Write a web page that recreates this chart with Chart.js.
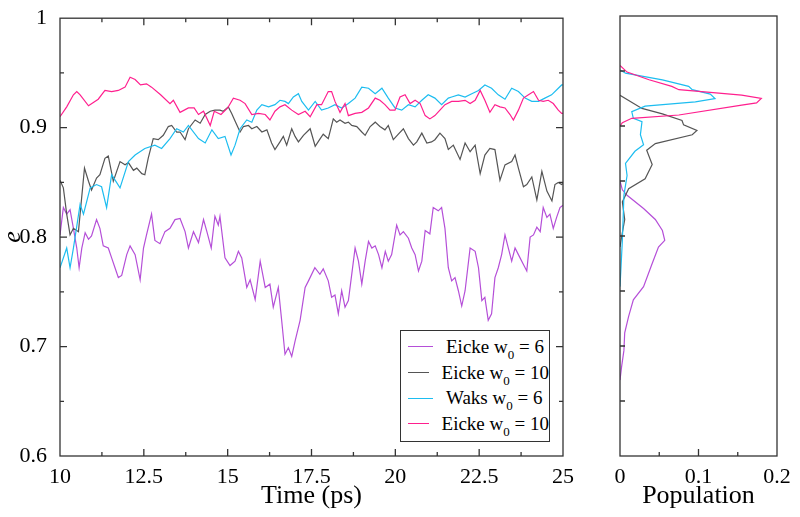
<!DOCTYPE html>
<html>
<head>
<meta charset="utf-8">
<script src="https://cdn.jsdelivr.net/npm/chart.js@4.4.1/dist/chart.umd.min.js"></script>
<style>
  body { margin:0; background:#fff; }
  #wrap { position:relative; width:800px; height:517px; }
  canvas { position:absolute; top:0; }
  #legend {
    position:absolute; left:400px; top:330px; width:148px; height:107px;
    border:1.4px solid #333; background:#fff; padding-top:3px;
    font-family:"Liberation Serif","Times New Roman",serif; font-size:19px; color:#000;
  }
  #legend .row { height:25.7px; display:flex; align-items:center; white-space:pre; }
  #legend .swatch { width:25px; margin-left:7px; margin-right:13px; height:0; }
  #legend sub { font-size:13px; vertical-align:-6px; line-height:0; }
</style>
</head>
<body>
<div id="wrap">
  <canvas id="main" width="580" height="517" style="left:0"></canvas>
  <canvas id="side" width="220" height="517" style="left:580px"></canvas>
  <div id="legend"></div>
</div>
<script>
// e(t) for each run, time in ps
var eicke6T = [10,10.1,10.2,10.3,10.4,10.5,10.57,10.65,10.75,10.85,
  10.94,11.09,11.19,11.29,11.44,11.54,11.64,11.74,11.84,11.99,
  12.09,12.24,12.39,12.49,12.58,12.73,12.83,12.98,13.13,13.28,
  13.43,13.58,13.73,13.83,13.98,14.13,14.28,14.38,14.51,14.62,
  14.72,14.77,14.92,15.07,15.22,15.32,15.42,15.57,15.67,15.82,
  15.97,16.12,16.26,16.36,16.51,16.61,16.71,16.81,16.91,17.01,
  17.16,17.31,17.41,17.6,17.75,17.85,18,18.1,18.2,18.3,
  18.4,18.5,18.6,18.7,18.8,18.9,19,19.1,19.2,19.3,
  19.4,19.5,19.6,19.7,19.79,19.89,20.04,20.14,20.24,20.39,
  20.49,20.59,20.69,20.79,20.89,21.03,21.13,21.28,21.38,21.48,
  21.58,21.68,21.78,21.88,21.98,22.08,22.23,22.38,22.48,22.58,
  22.67,22.77,22.87,22.97,23.07,23.17,23.27,23.37,23.47,23.57,
  23.67,23.82,23.92,24.02,24.12,24.22,24.32,24.41,24.52,24.61,
  24.71,24.81,24.91,25];
var eicke6E = [0.802,0.827,0.821,0.825,0.808,0.790,0.772,0.790,0.804,0.798,
  0.801,0.816,0.808,0.792,0.790,0.781,0.772,0.763,0.765,0.784,
  0.792,0.784,0.761,0.790,0.802,0.821,0.797,0.794,0.805,0.808,
  0.816,0.817,0.805,0.790,0.805,0.795,0.816,0.805,0.790,0.819,
  0.811,0.819,0.781,0.774,0.778,0.787,0.781,0.754,0.761,0.743,
  0.778,0.754,0.757,0.736,0.754,0.724,0.693,0.699,0.691,0.705,
  0.724,0.754,0.760,0.772,0.766,0.771,0.760,0.745,0.747,0.730,
  0.751,0.736,0.742,0.766,0.790,0.778,0.757,0.778,0.796,0.790,
  0.792,0.784,0.772,0.787,0.778,0.784,0.811,0.802,0.805,0.799,
  0.790,0.784,0.769,0.778,0.806,0.803,0.827,0.824,0.827,0.808,
  0.772,0.760,0.763,0.751,0.737,0.751,0.790,0.787,0.772,0.742,
  0.745,0.724,0.730,0.763,0.772,0.784,0.802,0.790,0.778,0.790,
  0.784,0.775,0.769,0.800,0.802,0.809,0.805,0.827,0.818,0.821,
  0.808,0.818,0.827,0.829];

var eicke10T = [10,10.1,10.2,10.3,10.4,10.55,10.73,10.85,10.94,11.09,
  11.19,11.34,11.44,11.59,11.79,11.94,12.04,12.19,12.29,12.44,
  12.53,12.63,12.78,12.93,13.08,13.23,13.33,13.48,13.58,13.73,
  13.83,14.03,14.18,14.33,14.48,14.62,14.77,14.87,15.02,15.12,
  15.22,15.37,15.47,15.62,15.72,15.87,16.02,16.17,16.31,16.41,
  16.56,16.66,16.76,16.91,17.01,17.11,17.26,17.46,17.61,17.76,
  17.85,18,18.15,18.25,18.35,18.5,18.6,18.7,18.85,19,
  19.1,19.25,19.4,19.54,19.69,19.79,19.94,20.09,20.24,20.39,
  20.54,20.64,20.79,20.94,21.08,21.18,21.33,21.48,21.58,21.73,
  21.93,22.08,22.23,22.38,22.53,22.67,22.82,22.97,23.12,23.27,
  23.47,23.57,23.67,23.82,23.92,24.07,24.22,24.37,24.52,24.67,
  24.76,24.86,24.96,25];
var eicke10E = [0.852,0.845,0.821,0.802,0.808,0.805,0.863,0.851,0.843,0.854,
  0.857,0.872,0.874,0.851,0.869,0.866,0.868,0.861,0.863,0.858,
  0.857,0.872,0.890,0.889,0.893,0.901,0.902,0.896,0.896,0.889,
  0.899,0.907,0.904,0.912,0.915,0.916,0.916,0.915,0.919,0.913,
  0.906,0.896,0.901,0.902,0.899,0.901,0.896,0.898,0.886,0.880,
  0.887,0.892,0.884,0.899,0.892,0.887,0.893,0.899,0.883,0.890,
  0.894,0.890,0.908,0.905,0.907,0.904,0.905,0.902,0.901,0.896,
  0.893,0.901,0.905,0.901,0.898,0.902,0.889,0.894,0.899,0.890,
  0.884,0.887,0.895,0.886,0.887,0.889,0.895,0.890,0.880,0.884,
  0.871,0.886,0.878,0.884,0.858,0.875,0.881,0.880,0.852,0.866,
  0.869,0.875,0.863,0.846,0.848,0.855,0.834,0.860,0.842,0.833,
  0.848,0.850,0.848,0.849];

var waks6T = [10,10.2,10.3,10.4,10.6,10.7,10.9,11.09,11.24,11.39,
  11.54,11.79,12.04,12.24,12.53,12.83,13.03,13.28,13.48,13.68,
  13.83,14.13,14.33,14.53,14.72,14.92,15.1,15.22,15.37,15.57,
  15.72,15.87,16.02,16.22,16.41,16.56,16.71,16.81,16.96,17.11,
  17.21,17.41,17.61,17.8,18,18.2,18.4,18.6,18.8,19,
  19.2,19.4,19.6,19.79,19.99,20.19,20.39,20.59,20.79,20.98,
  21.18,21.38,21.58,21.68,21.88,22.08,22.28,22.48,22.67,22.87,
  23.07,23.27,23.47,23.67,23.87,24.07,24.27,24.46,24.66,24.86,
  24.96,25];
var waks6E = [0.772,0.790,0.772,0.790,0.830,0.821,0.845,0.848,0.846,0.827,
  0.857,0.845,0.869,0.875,0.881,0.884,0.881,0.890,0.899,0.896,
  0.902,0.890,0.886,0.898,0.890,0.892,0.875,0.884,0.899,0.907,
  0.905,0.916,0.921,0.919,0.921,0.925,0.924,0.922,0.928,0.931,
  0.924,0.916,0.924,0.916,0.918,0.921,0.918,0.922,0.927,0.937,
  0.936,0.931,0.936,0.927,0.918,0.916,0.921,0.919,0.925,0.930,
  0.927,0.921,0.927,0.928,0.930,0.928,0.931,0.934,0.939,0.936,
  0.930,0.926,0.936,0.933,0.927,0.924,0.924,0.927,0.930,0.936,
  0.939,0.939];

var eicke10bT = [10,10.2,10.4,10.5,10.6,10.85,11.14,11.34,11.54,11.74,
  11.94,12.09,12.24,12.4,12.58,12.73,13,13.28,13.38,13.58,
  13.83,14,14.13,14.28,14.48,14.6,14.8,15,15.17,15.37,
  15.52,15.72,15.92,16.12,16.26,16.41,16.56,16.71,16.91,17.11,
  17.31,17.46,17.66,17.8,18,18.1,18.2,18.35,18.5,18.6,
  18.8,19,19.2,19.4,19.54,19.69,19.84,19.99,20.14,20.29,
  20.44,20.59,20.74,20.89,21.03,21.18,21.33,21.48,21.68,21.88,
  22.08,22.23,22.38,22.53,22.67,22.82,22.97,23.12,23.27,23.42,
  23.52,23.67,23.82,23.97,24.12,24.27,24.41,24.56,24.71,24.86,
  24.96,25];
var eicke10bE = [0.910,0.919,0.930,0.933,0.930,0.920,0.926,0.934,0.933,0.934,
  0.937,0.946,0.944,0.939,0.940,0.937,0.930,0.922,0.925,0.914,
  0.918,0.918,0.912,0.915,0.902,0.915,0.912,0.918,0.927,0.925,
  0.922,0.912,0.913,0.912,0.907,0.915,0.919,0.921,0.916,0.912,
  0.915,0.910,0.921,0.921,0.933,0.933,0.924,0.914,0.922,0.911,
  0.913,0.914,0.918,0.927,0.925,0.921,0.916,0.916,0.928,0.930,
  0.922,0.925,0.922,0.911,0.908,0.911,0.916,0.921,0.924,0.924,
  0.925,0.922,0.925,0.934,0.925,0.914,0.921,0.919,0.918,0.912,
  0.907,0.916,0.927,0.930,0.933,0.925,0.924,0.925,0.922,0.916,
  0.913,0.913];

// population histograms: e value and population
var histE6   = [0.850,0.842,0.837,0.825,0.815,0.805,0.796,0.790,0.775,0.754,0.742,0.727,0.712,0.696,0.681,0.669];
var histP6   = [0,0.003,0.009,0.030,0.045,0.054,0.057,0.049,0.041,0.030,0.017,0.011,0.006,0.005,0.002,0];
var histE10  = [0.928,0.916,0.911,0.905,0.901,0.896,0.892,0.884,0.878,0.865,0.852,0.843,0.831,0.815,0.803,0.790];
var histP10  = [0,0.028,0.054,0.079,0.081,0.098,0.092,0.045,0.034,0.041,0.032,0.011,0.003,0.006,0.003,0];
var histEW   = [0.951,0.948,0.942,0.936,0.933,0.929,0.925,0.922,0.918,0.913,0.907,0.904,0.892,0.883,0.877,0.866,0.855,0.837,0.796,0.754];
var histPW   = [0,0.007,0.054,0.0875,0.092,0.115,0.121,0.096,0.032,0.015,0.017,0.028,0.026,0.030,0.019,0.007,0.009,0.005,0.003,0];
var histE10b = [0.955,0.949,0.942,0.936,0.933,0.928,0.925,0.921,0.919,0.910,0.907,0.903,0.900];
var histP10b = [0,0.009,0.037,0.066,0.075,0.155,0.180,0.174,0.155,0.075,0.015,0.003,0];

var names = ["Eicke","Eicke","Waks","Eicke"];
var w0 = [6,10,6,10];
var colors = ["#b54fd8","#555555","#1dbdf0","#ff1f8e"];

var serif = '"Liberation Serif","Times New Roman",serif';
Chart.defaults.font.family = serif;
Chart.defaults.color = "#000";

// box round the plot plus inward tick marks
var frame = {
  id: "frame",
  afterDraw: function(chart, args, o) {
    var ctx = chart.ctx, a = chart.chartArea, sx = chart.scales.x, sy = chart.scales.y;
    ctx.save();
    ctx.strokeStyle = "#333";
    ctx.lineWidth = 1.3;
    ctx.strokeRect(a.left, a.top, a.right - a.left, a.bottom - a.top);
    ctx.beginPath();
    function xt(v, len) {
      var p = sx.getPixelForValue(v);
      ctx.moveTo(p, a.bottom); ctx.lineTo(p, a.bottom - len);
      if (o.mirror) { ctx.moveTo(p, a.top); ctx.lineTo(p, a.top + len); }
    }
    function yt(v, len) {
      var p = sy.getPixelForValue(v);
      ctx.moveTo(a.left, p); ctx.lineTo(a.left + len, p);
      if (o.mirror) { ctx.moveTo(a.right, p); ctx.lineTo(a.right - len, p); }
    }
    o.xMajor.forEach(function(v){ xt(v, 7); });
    o.xMinor.forEach(function(v){ xt(v, 4); });
    o.yMajor.forEach(function(v){ yt(v, o.yLen || 7); });
    o.yMinor.forEach(function(v){ yt(v, o.yLen ? o.yLen : 4); });
    ctx.stroke();
    ctx.restore();
  }
};

function line(label, xs, ys, color) {
  return {
    label: label,
    data: xs.map(function(x, i){ return {x: x, y: ys[i]}; }),
    borderColor: color, borderWidth: 1.2, pointRadius: 0, tension: 0, fill: false
  };
}

function num(v) { return String(+v.toFixed(2)); }
var tickFont = { family: serif, size: 22 };
var titleFont = { family: serif, size: 26 };

new Chart(document.getElementById("main"), {
  type: "line",
  data: {
    datasets: [
      line("Eicke w0 = 10", eicke10bT, eicke10bE, colors[3]),
      line("Waks w0 = 6", waks6T, waks6E, colors[2]),
      line("Eicke w0 = 10", eicke10T, eicke10E, colors[1]),
      line("Eicke w0 = 6", eicke6T, eicke6E, colors[0])
    ]
  },
  options: {
    responsive: false, animation: false, devicePixelRatio: 1,
    layout: { padding: { top: 16, right: 17, left: 0, bottom: 0 } },
    plugins: {
      legend: { display: false }, tooltip: { enabled: false },
      frame: { mirror: true, xMajor: [12.5,15,17.5,20,22.5], xMinor: [11.25,13.75,16.25,18.75,21.25,23.75],
               yMajor: [0.7,0.8,0.9], yMinor: [0.65,0.75,0.85,0.95] }
    },
    scales: {
      x: {
        type: "linear", min: 10, max: 25,
        ticks: { stepSize: 2.5, padding: 0, font: tickFont, color: "#000", maxRotation: 0, callback: num },
        grid: { display: false }, border: { display: false },
        title: { display: true, text: "Time (ps)", font: titleFont, padding: { top: 0, bottom: 5 } },
        afterFit: function(s){ s.height = 61; }
      },
      y: {
        min: 0.6, max: 1,
        ticks: { stepSize: 0.1, padding: 5, font: tickFont, color: "#000", callback: num },
        grid: { display: false }, border: { display: false },
        title: { display: true, text: "e", font: { family: serif, size: 26, style: "italic", lineHeight: 1 }, padding: 0 },
        afterFit: function(s){ s.width = 60; }
      }
    }
  },
  plugins: [frame]
});

new Chart(document.getElementById("side"), {
  type: "scatter",
  data: {
    datasets: [
      line("Eicke w0 = 10", histP10b, histE10b, colors[3]),
      line("Waks w0 = 6", histPW, histEW, colors[2]),
      line("Eicke w0 = 10", histP10, histE10, colors[1]),
      line("Eicke w0 = 6", histP6, histE6, colors[0])
    ].map(function(d){ d.showLine = true; return d; })
  },
  options: {
    responsive: false, animation: false, devicePixelRatio: 1,
    layout: { padding: { top: 16, right: 23, left: 0, bottom: 0 } },
    plugins: {
      legend: { display: false }, tooltip: { enabled: false },
      frame: { mirror: false, yLen: 5, xMajor: [0.1], xMinor: [0.05,0.15],
               yMajor: [0.7,0.8,0.9], yMinor: [0.65,0.75,0.85,0.95] }
    },
    scales: {
      x: {
        type: "linear", min: 0, max: 0.2,
        ticks: { stepSize: 0.1, padding: 0, font: tickFont, color: "#000", maxRotation: 0, callback: num },
        grid: { display: false }, border: { display: false },
        title: { display: true, text: "Population", font: titleFont, padding: { top: 0, bottom: 5 } },
        afterFit: function(s){ s.height = 61; }
      },
      y: {
        min: 0.6, max: 1,
        ticks: { display: false, stepSize: 0.1 },
        grid: { display: false }, border: { display: false },
        afterFit: function(s){ s.width = 40; }
      }
    }
  },
  plugins: [frame]
});

// legend box inside the time plot
document.getElementById("legend").innerHTML = names.map(function(n, i){
  return '<div class="row"><span class="swatch" style="border-top:1.3px solid ' + colors[i] + '"></span>' +
    '<span>' + n + ' w<sub>0</sub> = ' + w0[i] + '</span></div>';
}).join("");
</script>
</body>
</html>
